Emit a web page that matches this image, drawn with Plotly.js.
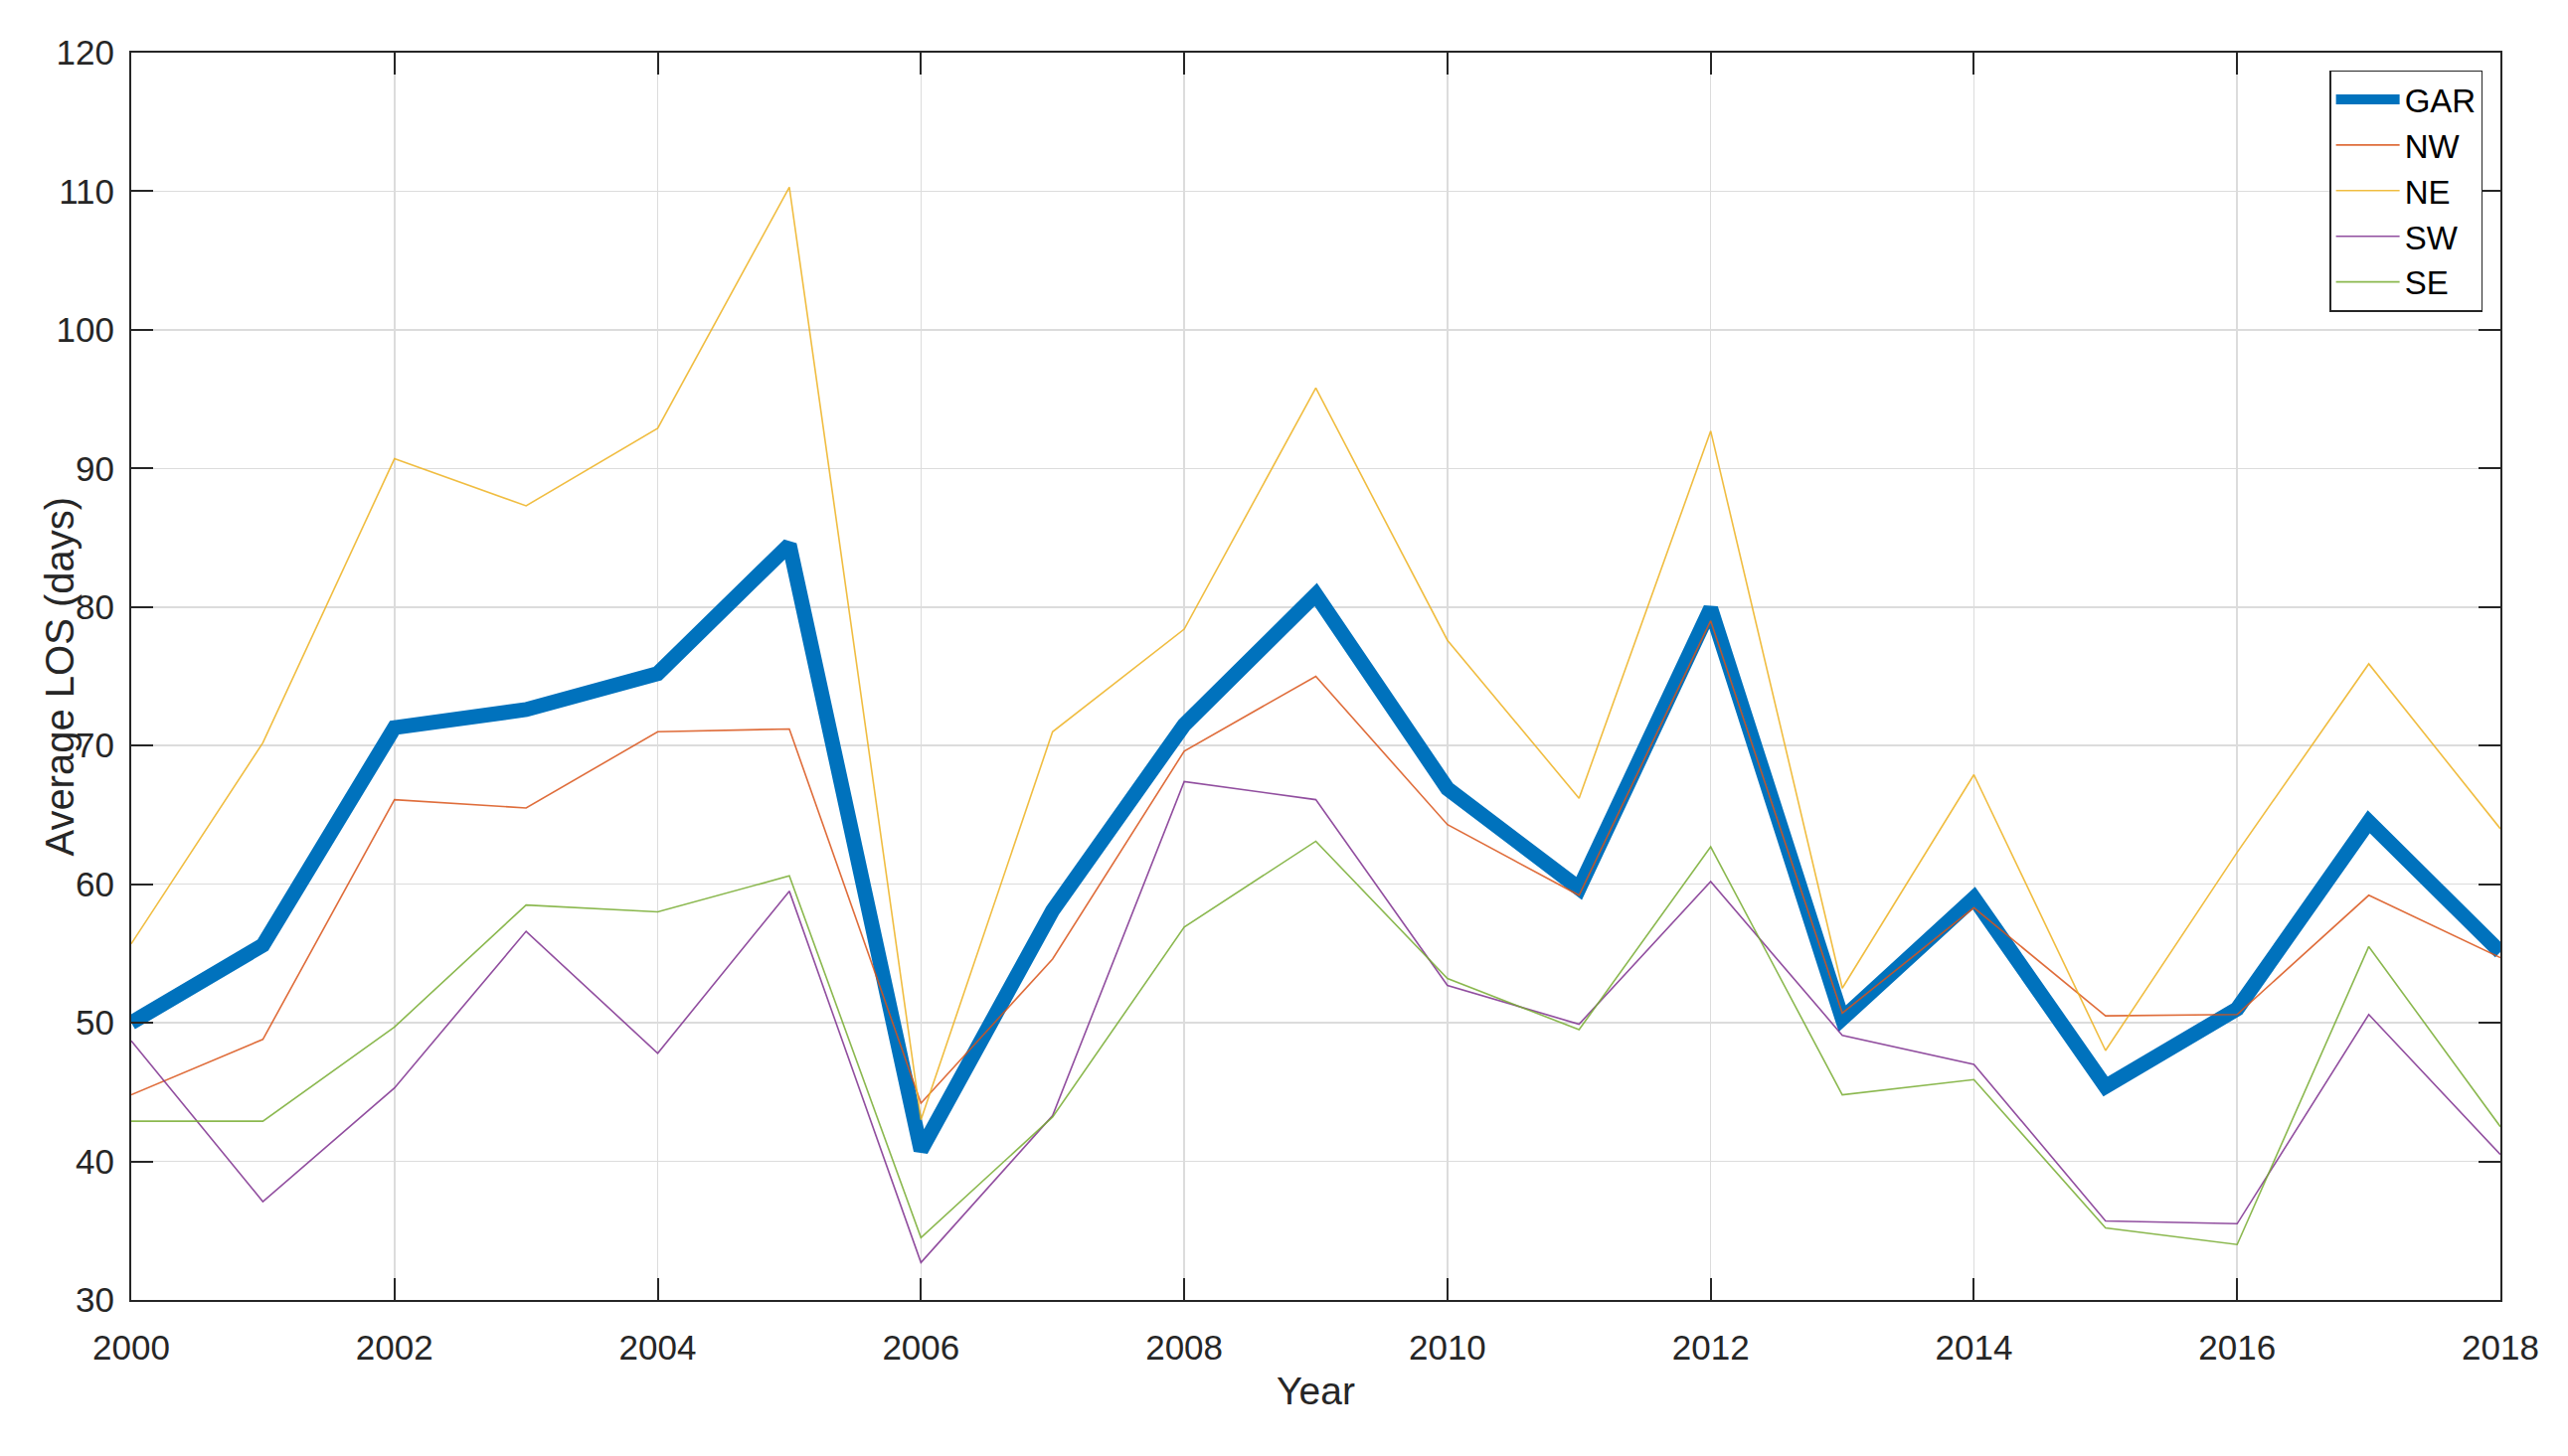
<!DOCTYPE html>
<html>
<head>
<meta charset="utf-8">
<script src="https://cdn.plot.ly/plotly-3.0.1.min.js"></script>
<style>html,body{margin:0;padding:0;background:#fff;}#chart{width:2583px;height:1465px;}</style>
</head>
<body>
<div id="chart"></div>
<script>
const years = [2000,2001,2002,2003,2004,2005,2006,2007,2008,2009,2010,2011,2012,2013,2014,2015,2016,2017,2018];
const GAR = [50.0,55.6,71.3,72.6,75.2,84.5,40.8,58.1,71.5,80.9,66.9,59.7,79.9,50.3,59.0,45.4,51.0,64.5,55.1];
const NW  = [44.8,48.8,66.1,65.5,71.0,71.2,44.2,54.6,69.6,75.0,64.3,59.2,79.0,50.7,58.3,50.5,50.6,59.2,54.7];
const NE  = [55.7,70.2,90.7,87.3,92.9,110.3,43.0,71.0,78.4,95.8,77.6,66.2,92.7,52.5,67.9,48.0,62.3,75.9,64.0];
const SW  = [48.7,37.1,45.3,56.6,47.8,59.5,32.7,43.3,67.4,66.1,52.7,49.9,60.2,49.1,47.0,35.7,35.5,50.6,40.5];
const SE  = [42.9,42.9,49.7,58.5,58.0,60.6,34.5,43.2,56.9,63.1,53.2,49.5,62.7,44.8,45.9,35.2,34.0,55.5,42.5];
const xTicks = [2000,2002,2004,2006,2008,2010,2012,2014,2016,2018];
const yTicks = [30,40,50,60,70,80,90,100,110,120];

const series = [
  {name:'GAR', y:GAR, color:'#0072BD', width:15},
  {name:'NW',  y:NW,  color:'#D95319', width:1.6},
  {name:'NE',  y:NE,  color:'#EDB120', width:1.6},
  {name:'SW',  y:SW,  color:'#7E2F8E', width:1.6},
  {name:'SE',  y:SE,  color:'#77AC30', width:1.6}
];
const traces = series.map(s => ({
  x: years, y: s.y, name: s.name, type: 'scatter', mode: 'lines',
  line: {color: s.color, width: s.width},
  opacity: s.name === 'GAR' ? 1 : 0.85
}));

const FONT = 'Liberation Sans, Arial, sans-serif';
const axisCommon = {
  showline: true, linecolor: '#262626', linewidth: 2, mirror: 'ticks',
  ticks: 'inside', ticklen: 22, tickwidth: 2, tickcolor: '#262626',
  showgrid: true, gridcolor: '#dcdcdc', gridwidth: 1.5, zeroline: false,
  tickfont: {family: FONT, size: 35, color: '#262626'}
};

const layout = {
  width: 2583, height: 1465,
  paper_bgcolor: '#ffffff', plot_bgcolor: '#ffffff',
  margin: {l: 132, r: 68, t: 53, b: 157},
  showlegend: true,
  xaxis: Object.assign({}, axisCommon, {
    range: [2000, 2018], tickmode: 'array', tickvals: xTicks, ticktext: xTicks.map(String),
    ticklabelstandoff: 16,
    title: {text: 'Year', font: {family: FONT, size: 39, color: '#262626'}, standoff: 12}
  }),
  yaxis: Object.assign({}, axisCommon, {
    range: [30, 120], tickmode: 'array', tickvals: yTicks, ticktext: yTicks.map(String),
    ticklabelstandoff: 8,
    title: {text: ''}
  }),
  annotations: [{
    text: 'Average LOS (days)', xref: 'paper', yref: 'paper',
    x: -0.0306, y: 0.5, xanchor: 'center', yanchor: 'middle',
    textangle: -90, showarrow: false,
    font: {family: FONT, size: 40, color: '#262626'}
  }],
  legend: {
    x: 0.9925, y: 0.986, xanchor: 'right', yanchor: 'top',
    bgcolor: '#ffffff', bordercolor: '#262626', borderwidth: 1.5,
    font: {family: FONT, size: 33, color: '#000000'},
    tracegroupgap: 0, itemwidth: 64
  }
};

Plotly.newPlot('chart', traces, layout, {displayModeBar: false, staticPlot: true});
</script>
</body>
</html>
